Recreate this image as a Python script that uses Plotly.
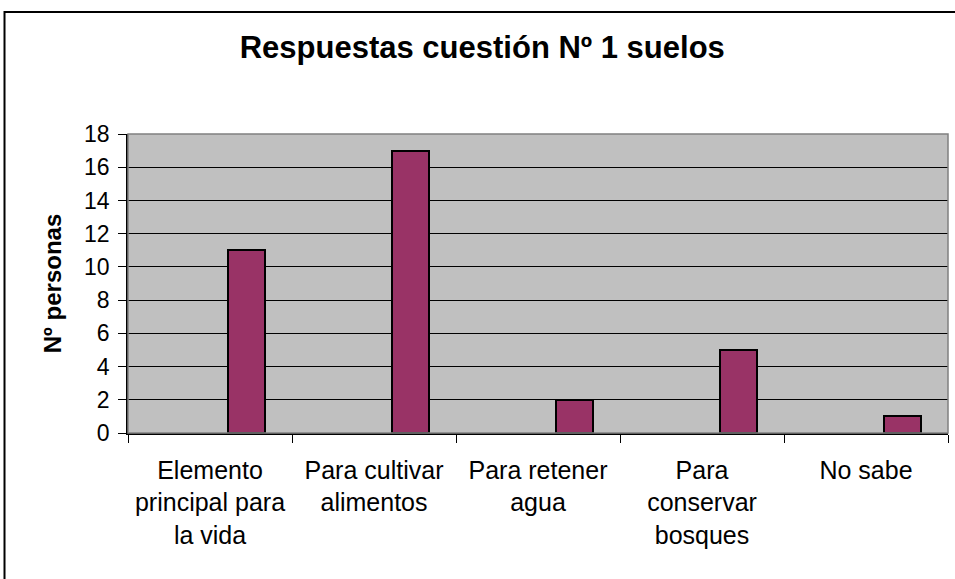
import plotly.graph_objs as go

# data
categories = [
    'Elemento<br>principal para<br>la vida',
    'Para cultivar<br>alimentos',
    'Para retener<br>agua',
    'Para<br>conservar<br>bosques',
    'No sabe',
]
personas = [11, 17, 2, 5, 1]
y_ticks = list(range(0, 19, 2))

font_family = 'Arial, Liberation Sans, sans-serif'

bars = go.Bar(
    x=categories,
    y=personas,
    width=0.222,
    offset=0.111,
    marker={'color': '#993366', 'line': {'color': 'black', 'width': 2}},
    showlegend=False,
)

layout = go.Layout(
    width=955,
    height=579,
    margin={'l': 128, 'r': 7, 't': 134, 'b': 146},
    paper_bgcolor='white',
    plot_bgcolor='#C0C0C0',
    font={'family': font_family, 'color': 'black'},
    title={
        'text': '<b>Respuestas cuestión Nº 1 suelos</b>',
        'font': {'size': 31, 'family': font_family, 'color': 'black'},
        'xref': 'container', 'x': 0.505, 'xanchor': 'center',
        'yref': 'container', 'y': 0.919, 'yanchor': 'middle',
    },
    xaxis={
        'type': 'category',
        'tickson': 'boundaries',
        'ticks': 'outside',
        'ticklen': 8,
        'tickcolor': 'black',
        'showline': True,
        'linecolor': 'black',
        'linewidth': 1.5,
        'showgrid': False,
        'tickfont': {'size': 25},
        'ticklabelstandoff': 14,
        'tickangle': 0,
    },
    yaxis={
        'range': [0, 18],
        'tickvals': y_ticks,
        'ticks': 'outside',
        'ticklen': 8,
        'tickcolor': 'black',
        'showline': True,
        'linecolor': 'black',
        'linewidth': 1.5,
        'showgrid': True,
        'gridcolor': 'black',
        'gridwidth': 1,
        'zeroline': False,
        'tickfont': {'size': 23},
        'ticklabelstandoff': 4,
        'title': {'text': '<b>Nº personas</b>', 'font': {'size': 24}, 'standoff': 16},
    },
    shapes=[
        # grey plot-area border (top and right)
        {'type': 'rect', 'xref': 'paper', 'yref': 'paper', 'x0': 0, 'x1': 1, 'y0': 0, 'y1': 1,
         'line': {'color': '#808080', 'width': 1.5}, 'layer': 'above'},
        # outer chart frame
        {'type': 'rect', 'xref': 'paper', 'yref': 'paper', 'x0': -0.1506, 'x1': 1.02, 'y0': -0.56, 'y1': 1.408,
         'line': {'color': 'black', 'width': 2}},
    ],
    bargap=0,
)

fig = go.Figure(data=[bars], layout=layout)
fig.update_xaxes(automargin=False)
fig.update_yaxes(automargin=False)
# drop the default page margin so the chart sits at the window's corner
fig.write_html('out.html', config={'displayModeBar': False},
               post_script="document.body.style.margin='0';")
